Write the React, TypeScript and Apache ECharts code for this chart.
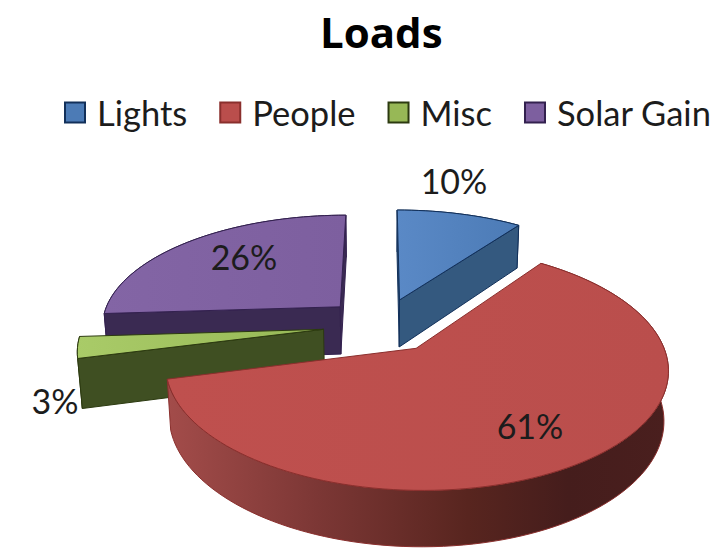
import React, { useEffect, useRef } from "react";
import * as echarts from "echarts";

// Share of each load, in percent, clockwise from twelve o'clock.
const categories = ["Lights", "People", "Misc", "Solar Gain"];
const values = [10, 61, 3, 26];

const topColors = [
  ["#5a89c6", "#4c7bb6"],
  ["#bf504e", "#ba4e4c"],
  ["#a9cb68", "#97b856"],
  ["#8365a5", "#7d5f9f"],
];
const wallColors = ["#34597f", "#6b2f2e", "#3f4f22", "#3a2a52"];
const edgeColors = ["#12305a", "#8a2f2d", "#2c3a10", "#33214f"];
const paintOrder = [2, 4, 3, 1];
const labelSpots = [
  [454, 180],
  [530, 425],
  [55, 400],
  [244, 256],
];

// Projection of the tilted pie onto the page.
const CX = 382;
const CY = 325;
const RX = 240;
const RY = 111.4;
const PERSPECTIVE = 0.158;
const EXPLODE = 0.245;
const DEPTH = 49;
const DEPTH_SHRINK = 0.015;

const RAD = Math.PI / 180;
const total = values.reduce((a, b) => a + b, 0);

function project(px: number, py: number, lowered: boolean): number[] {
  const w = 1 - PERSPECTIVE * py + (lowered ? DEPTH_SHRINK : 0);
  return [CX + (RX * px) / w, CY + (RY * py + (lowered ? DEPTH : 0)) / w];
}

// A cut face shows only when the slice's top lies above its upper edge on the page.
function cutFaceShows(a: number[], b: number[], inner: number[]): boolean {
  const slope = (b[1] - a[1]) / (b[0] - a[0] || 1e-6);
  return inner[1] < a[1] + (inner[0] - a[0]) * slope;
}

function sliceShapes(index: number) {
  const before = values.slice(0, index).reduce((a, b) => a + b, 0);
  const start = (before / total) * 360;
  const end = ((before + values[index]) / total) * 360;
  const mid = ((start + end) / 2) * RAD;
  const ox = EXPLODE * Math.sin(mid);
  const oy = -EXPLODE * Math.cos(mid);
  const rim = (lowered: boolean) => {
    const pts: number[][] = [];
    const steps = Math.max(4, Math.ceil((end - start) / 2));
    for (let i = 0; i <= steps; i++) {
      const t = (start + ((end - start) * i) / steps) * RAD;
      pts.push(project(ox + Math.sin(t), oy - Math.cos(t), lowered));
    }
    return pts;
  };
  const topRim = rim(false);
  const lowRim = rim(true);
  const last = topRim.length - 1;
  const apex = project(ox, oy, false);
  const lowApex = project(ox, oy, true);
  const inner = topRim[Math.floor(last / 2)];
  const cutFaces: number[][][] = [];
  if (cutFaceShows(apex, topRim[0], inner)) {
    cutFaces.push([apex, topRim[0], lowRim[0], lowApex]);
  }
  if (cutFaceShows(apex, topRim[last], inner)) {
    cutFaces.push([apex, topRim[last], lowRim[last], lowApex]);
  }
  return {
    top: [apex, ...topRim],
    outer: [...topRim, ...lowRim.slice().reverse()],
    cutFaces,
  };
}

function outerFill(index: number) {
  if (index === 1) {
    return new echarts.graphic.LinearGradient(0, 0, 1, 0, [
      { offset: 0, color: "#a34c4a" },
      { offset: 0.3, color: "#7c3735" },
      { offset: 0.6, color: "#58251f" },
      { offset: 0.8, color: "#451d1c" },
      { offset: 1, color: "#4a1f1e" },
    ]);
  }
  return wallColors[index];
}

function renderSlice(index: number) {
  return () => {
    const s = sliceShapes(index);
    return {
      type: "group",
      children: [
        {
          type: "polygon",
          shape: { points: s.outer },
          style: { fill: outerFill(index), stroke: edgeColors[index], lineWidth: 1 },
        },
        ...s.cutFaces.map((points) => ({
          type: "polygon",
          shape: { points },
          style: { fill: wallColors[index], stroke: edgeColors[index], lineWidth: 1 },
        })),
        {
          type: "polygon",
          shape: { points: s.top },
          style: {
            fill: new echarts.graphic.LinearGradient(0, 0, 1, 0, [
              { offset: 0, color: topColors[index][0] },
              { offset: 1, color: topColors[index][1] },
            ]),
            stroke: edgeColors[index],
            lineWidth: 1,
          },
        },
        {
          type: "text",
          style: {
            text: `${values[index]}%`,
            x: labelSpots[index][0],
            y: labelSpots[index][1],
            align: "center",
            verticalAlign: "middle",
            fill: "#1c1c1c",
            font: '34px Lato, "Open Sans", sans-serif',
          },
        },
      ],
    };
  };
}

export default function App() {
  const ref = useRef<HTMLDivElement>(null);
  useEffect(() => {
    if (!ref.current) return;
    const chart = echarts.init(ref.current, undefined, { renderer: "svg" });
    chart.setOption({
      animation: false,
      backgroundColor: "#ffffff",
      title: {
        text: "Loads",
        left: 315,
        top: 5,
        textStyle: {
          fontFamily: "Open Sans",
          fontSize: 42,
          fontWeight: "bold",
          color: "#000000",
        },
      },
      legend: {
        data: categories,
        left: 59,
        top: 90,
        icon: "rect",
        itemWidth: 20,
        itemHeight: 20,
        itemGap: 32,
        textStyle: {
          fontFamily: "Lato",
          fontSize: 34.5,
          color: "#1c1c1c",
          padding: [0, 0, 0, 7],
        },
      },
      series: categories.map((name, i) => ({
        type: "custom",
        name,
        coordinateSystem: "none",
        z: paintOrder[i],
        silent: true,
        itemStyle: {
          color: topColors[i][1],
          borderColor: edgeColors[i],
          borderWidth: 1,
        },
        renderItem: renderSlice(i),
        data: [[values[i]]],
      })),
    });
    return () => chart.dispose();
  }, []);
  return (
    <div
      ref={ref}
      style={{ position: "fixed", left: 0, top: 0, width: 721, height: 555 }}
    />
  );
}
